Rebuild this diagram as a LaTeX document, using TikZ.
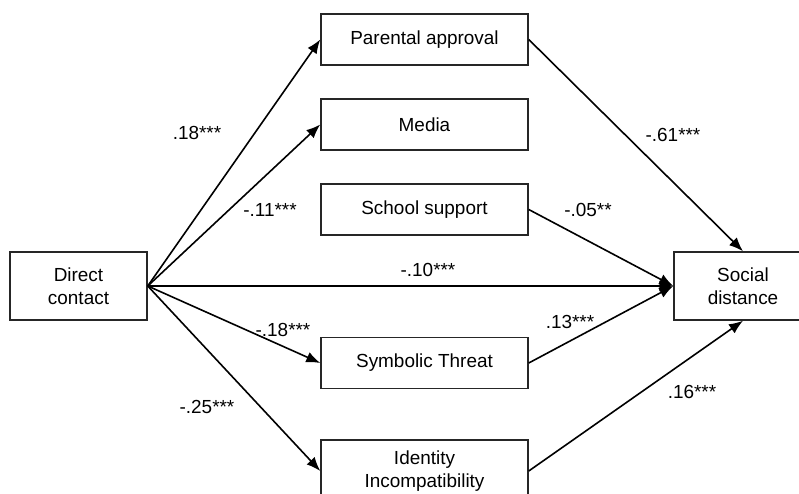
\documentclass[tikz,border=0pt]{standalone}
\usepackage{fontspec}
\setmainfont{Liberation Sans}
\usetikzlibrary{arrows.meta}
\begin{document}
\begin{tikzpicture}[x=1bp,y=-1bp,
  box/.style={draw=black!85, line width=1.5bp, inner sep=0pt, align=center,
    font=\fontsize{19}{23}\selectfont},
  lbl/.style={inner sep=0pt, font=\fontsize{19}{23}\selectfont},
  conn/.style={line width=1.6bp, -{Latex[length=14bp,width=11bp]}}]
\useasboundingbox (0,0) rectangle (799,494);
\node[box, minimum width=137bp, minimum height=68bp] (dc) at (78.5,286) {Direct\\contact};
\node[box, minimum width=138bp, minimum height=68bp] (sd) at (743,286) {Social\\distance};
\node[box, minimum width=207bp, minimum height=51bp] (pa) at (424.5,39.5) {Parental approval};
\node[box, minimum width=207bp, minimum height=51bp] (me) at (424.5,124.5) {Media};
\node[box, minimum width=207bp, minimum height=51bp] (ss) at (424.5,209.5) {School support};
\node[box, minimum width=207bp, minimum height=51bp] (st) at (424.5,363) {Symbolic Threat};
\node[box, minimum width=207bp, minimum height=62bp] (ii) at (424.5,471) {Identity\\Incompatibility};
\draw[conn] (dc.east) -- (pa.west);
\draw[conn] (dc.east) -- (me.west);
\draw[conn] (dc.east) -- (sd.west);
\draw[conn] (dc.east) -- (st.west);
\draw[conn] (dc.east) -- (ii.west);
\draw[conn] (pa.east) -- (sd.north);
\draw[conn] (ss.east) -- (sd.west);
\draw[conn] (st.east) -- (sd.west);
\draw[conn] (ii.east) -- (sd.south);
\node[lbl] (l1) at (197,133) {.18***};
\node[lbl] (l2) at (270,210) {-.11***};
\node[lbl] (l3) at (428,270) {-.10***};
\node[lbl] (l4) at (283,330) {-.18***};
\node[lbl] (l5) at (207,407) {-.25***};
\node[lbl] (l6) at (673,135) {-.61***};
\node[lbl] (l7) at (588,210) {-.05**};
\node[lbl] (l8) at (570,322) {.13***};
\node[lbl] (l9) at (692,392) {.16***};
\end{tikzpicture}
\end{document}
